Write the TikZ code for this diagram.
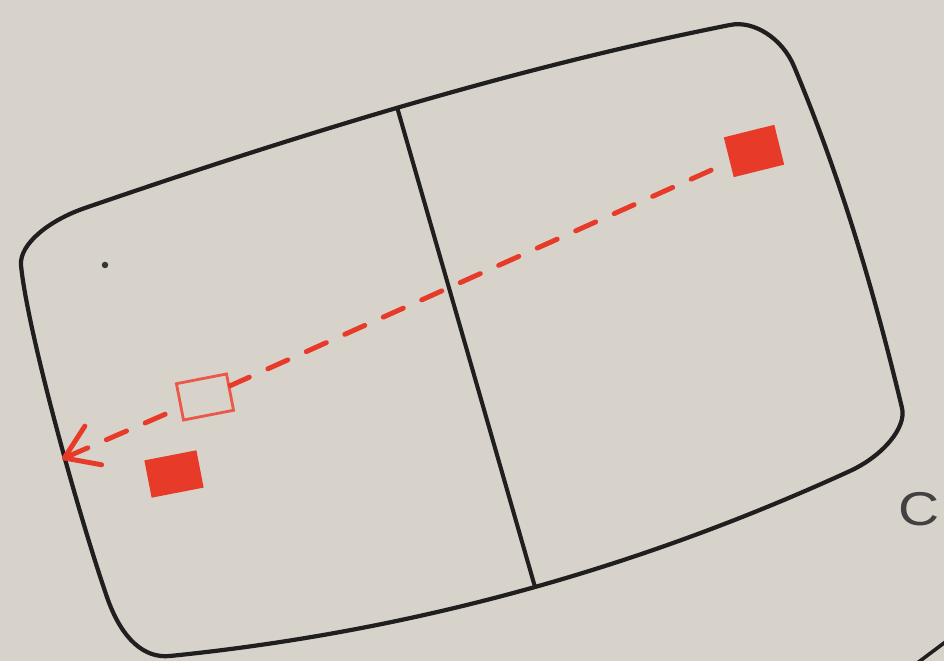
\documentclass[tikz,border=0pt]{standalone}
\usepackage{fontspec}
\setmainfont{Liberation Sans}
\usetikzlibrary{arrows.meta}
\definecolor{paper}{RGB}{215,210,202}
\definecolor{ink}{RGB}{32,30,30}
\definecolor{sigred}{RGB}{232,58,40}
\begin{document}
\begin{tikzpicture}[x=0.02cm,y=-0.02cm,
  outline/.style={draw=ink,line width=2.4pt,line join=round},
  fillsq/.style={rectangle,fill=sigred,draw=none,inner sep=0pt},
  opensq/.style={rectangle,fill=paper,draw=sigred!85!white,line width=1.6pt,inner sep=0pt},
  trail/.style={draw=sigred,line width=2.8pt,line cap=round,dash pattern=on 12.5pt off 11.5pt},
  lbl/.style={text=ink!85,font=\fontsize{27}{27}\selectfont,inner sep=0pt}
]
\fill[paper] (0,0) rectangle (944,661);
\useasboundingbox (0,0) rectangle (944,661);

% screen outline
\draw[outline] (85,208) .. controls (48.1,220.7) and (19.35,244.6) .. (21,265)
  .. controls (27,330) and (80,520) .. (108,600)
  .. controls (122.3,639) and (144,658.6) .. (170,656)
  .. controls (397,633) and (623,575) .. (850,471)
  .. controls (883.3,455.6) and (906.7,427.3) .. (902,408)
  .. controls (874.6,294) and (841.9,181) .. (794.3,67)
  .. controls (782.6,38.4) and (753.65,20.05) .. (730,25)
  .. controls (518,67) and (300,134) .. (85,208) -- cycle;

% divider
\draw[ink,line width=2.3pt] (397,107) -- (535,587);

% neighbouring outline fragment
\draw[ink,line width=2pt] (916,664) -- (948,640);

% marks
\node[fillsq,minimum width=1.04cm,minimum height=0.82cm,rotate=14] (sqA) at (754,151) {};
\node[opensq,minimum width=1.02cm,minimum height=0.74cm,rotate=11] (sqB) at (205,397) {};
\node[fillsq,minimum width=1.06cm,minimum height=0.76cm,rotate=11] (sqC) at (174,474) {};
\node[circle,fill=ink!90,inner sep=0pt,minimum size=0.13cm] (dot) at (105,265) {};
\coordinate (tip) at (62,459);

\draw[trail,dash phase=12.5pt] (sqA) -- (sqB);
\draw[trail,dash phase=15pt,-{Straight Barb[length=18pt,width=24pt,round]}] (sqB) -- (tip);

\node[lbl] (lab) at (919,509) {\scalebox{1.2}[1]{C}};
\end{tikzpicture}
\end{document}
